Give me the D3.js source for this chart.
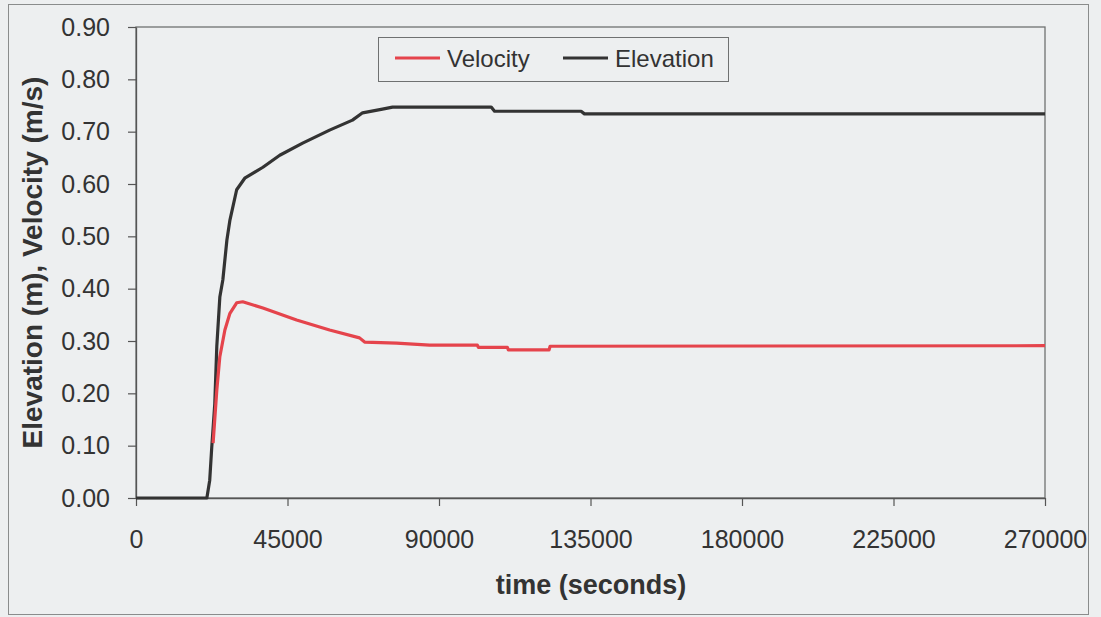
<!DOCTYPE html>
<html>
<head>
<meta charset="utf-8">
<script src="https://cdn.jsdelivr.net/npm/d3@7"></script>
<style>
  html, body { margin: 0; padding: 0; background: #edeff0; }
  svg { display: block; font-family: "Liberation Sans", Arial, sans-serif; }
</style>
</head>
<body>
<svg id="chart" width="1101" height="617"></svg>
<script>
// Elevation series (m) against time (s)
const elevTime = [0, 21050, 21900, 22500, 23400, 24000, 24900, 25800, 27000, 27900,
  29900, 32300, 37700, 42700, 49500, 57500, 64300, 67300, 73200, 76200,
  105500, 106500, 132200, 133200, 270000];
const elevation = [0, 0, 0.034, 0.097, 0.18, 0.29, 0.384, 0.417, 0.493, 0.531,
  0.589, 0.611, 0.632, 0.655, 0.678, 0.703, 0.722, 0.736, 0.743, 0.747,
  0.747, 0.739, 0.739, 0.734, 0.734];

// Velocity series (m/s) against time (s)
const velTime = [22900, 24000, 24900, 26400, 27900, 29900, 31700, 37700, 47700, 57500,
  66400, 67900, 77400, 87200, 101400, 101700, 110300, 110600, 122700, 123000, 270000];
const velocity = [0.105, 0.206, 0.27, 0.321, 0.353, 0.373, 0.375, 0.363, 0.34, 0.321,
  0.306, 0.298, 0.296, 0.292, 0.292, 0.288, 0.288, 0.283, 0.283, 0.29, 0.291];

const xTicks = [0, 45000, 90000, 135000, 180000, 225000, 270000];
const yTicks = [0, 0.1, 0.2, 0.3, 0.4, 0.5, 0.6, 0.7, 0.8, 0.9];
const seriesNames = ["Velocity", "Elevation"];
const seriesColors = ["#e5444c", "#333333"];

const svg = d3.select("#chart");
const plot = { left: 136, top: 27, right: 1045, bottom: 498 };

const x = d3.scaleLinear().domain([0, 270000]).range([plot.left, plot.right]);
const y = d3.scaleLinear().domain([0, 0.9]).range([plot.bottom, plot.top]);

// outer chart frame
svg.append("rect")
  .attr("x", 8.5).attr("y", 4.5).attr("width", 1080).attr("height", 610)
  .attr("fill", "none").attr("stroke", "#8a8c8c").attr("stroke-width", 1);

// plot area frame
svg.append("rect")
  .attr("x", plot.left).attr("y", plot.top)
  .attr("width", plot.right - plot.left).attr("height", plot.bottom - plot.top)
  .attr("fill", "none").attr("stroke", "#6f7171").attr("stroke-width", 1.3);

// axes
const xAxis = d3.axisBottom(x).tickValues(xTicks).tickFormat(d3.format("d"))
  .tickSizeInner(8).tickSizeOuter(0).tickPadding(24);
const yAxis = d3.axisLeft(y).tickValues(yTicks).tickFormat(d3.format(".2f"))
  .tickSizeInner(8).tickSizeOuter(0).tickPadding(18);

const gx = svg.append("g").attr("transform", `translate(0,${plot.bottom})`).call(xAxis);
const gy = svg.append("g").attr("transform", `translate(${plot.left},0)`).call(yAxis);
[gx, gy].forEach(g => {
  g.selectAll(".domain").attr("stroke", "#555").attr("stroke-width", 1.3);
  g.selectAll(".tick line").attr("stroke", "#555").attr("stroke-width", 1.2);
  g.selectAll(".tick text").attr("fill", "#333").attr("font-size", 25)
    .attr("font-family", "'Liberation Sans', Arial, sans-serif");
});
gx.selectAll(".tick text").attr("dy", "0.71em");

// axis titles
svg.append("text")
  .attr("x", 591).attr("y", 594)
  .attr("text-anchor", "middle").attr("font-weight", "bold")
  .attr("font-size", 27).attr("fill", "#333")
  .text("time (seconds)");

svg.append("text")
  .attr("transform", `translate(42,${(plot.top + plot.bottom) / 2}) rotate(-90)`)
  .attr("text-anchor", "middle").attr("font-weight", "bold")
  .attr("font-size", 28).attr("fill", "#333")
  .text("Elevation (m), Velocity (m/s)");

// series lines
const line = d3.line().x(d => x(d[0])).y(d => y(d[1]));
const elevData = elevTime.map((t, i) => [t, elevation[i]]);
const velData = velTime.map((t, i) => [t, velocity[i]]);

svg.append("path").datum(elevData)
  .attr("d", line).attr("fill", "none")
  .attr("stroke", seriesColors[1]).attr("stroke-width", 3.2)
  .attr("stroke-linejoin", "round");

svg.append("path").datum(velData)
  .attr("d", line).attr("fill", "none")
  .attr("stroke", seriesColors[0]).attr("stroke-width", 3.2)
  .attr("stroke-linejoin", "round");

// legend
const legend = svg.append("g").attr("transform", "translate(378,37)");
legend.append("rect")
  .attr("x", 0.5).attr("y", 0.5).attr("width", 350).attr("height", 44)
  .attr("fill", "#edeff0").attr("stroke", "#6f7171").attr("stroke-width", 1);
const legendItems = [
  { name: seriesNames[0], color: seriesColors[0], x0: 17, tx: 69 },
  { name: seriesNames[1], color: seriesColors[1], x0: 185, tx: 237 }
];
legendItems.forEach(it => {
  legend.append("line")
    .attr("x1", it.x0).attr("x2", it.x0 + 45).attr("y1", 21).attr("y2", 21)
    .attr("stroke", it.color).attr("stroke-width", 3);
  legend.append("text")
    .attr("x", it.tx).attr("y", 30)
    .attr("font-size", 24).attr("fill", "#333")
    .text(it.name);
});
</script>
</body>
</html>
